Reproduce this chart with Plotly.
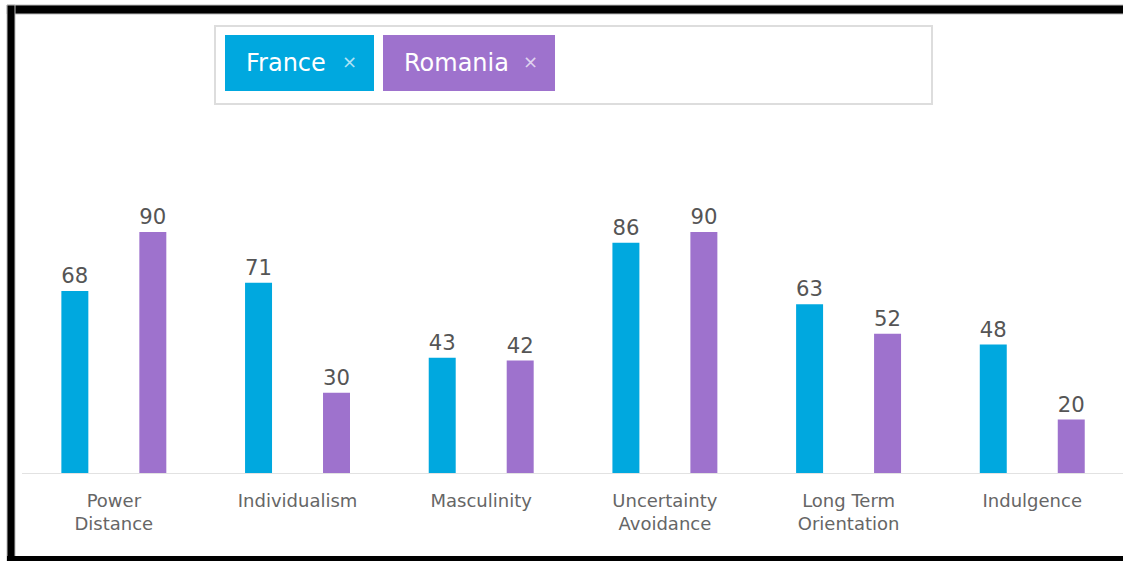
import plotly.graph_objects as go

W, H = 1123, 561

categories = ["Power<br>Distance", "Individualism", "Masculinity",
              "Uncertainty<br>Avoidance", "Long Term<br>Orientation", "Indulgence"]
france = [68, 71, 43, 86, 63, 48]
romania = [90, 30, 42, 90, 52, 20]

FR_COLOR = "#00A8DF"
RO_COLOR = "#9E72CD"
LABEL_FONT = "DejaVu Sans, Verdana, sans-serif"


def px_x(x):
    return x / W


def px_y(y):
    return 1 - y / H


fig = go.Figure()
for name, vals, col in [("France", france, FR_COLOR), ("Romania", romania, RO_COLOR)]:
    fig.add_trace(go.Bar(
        x=categories, y=vals, name=name, marker=dict(color=col, line=dict(width=0)),
        text=[str(v) for v in vals], textposition="outside", cliponaxis=False,
        textfont=dict(family=LABEL_FONT, size=22, color="#555555"),
    ))

shapes = []
# page frame
shapes.append(dict(type="rect", xref="paper", yref="paper",
                   x0=px_x(7), x1=px_x(1130), y0=px_y(5), y1=px_y(14),
                   fillcolor="black", line=dict(width=1, color="#bbbbbb"), layer="above"))
shapes.append(dict(type="rect", xref="paper", yref="paper",
                   x0=px_x(7), x1=px_x(15), y0=px_y(5), y1=px_y(565),
                   fillcolor="black", line=dict(width=1, color="#bbbbbb"), layer="above"))
shapes.append(dict(type="rect", xref="paper", yref="paper",
                   x0=px_x(7), x1=px_x(1130), y0=px_y(556), y1=px_y(565),
                   fillcolor="black", line=dict(width=0), layer="above"))
# selector box
shapes.append(dict(type="rect", xref="paper", yref="paper",
                   x0=px_x(215), x1=px_x(932), y0=px_y(104), y1=px_y(26),
                   fillcolor="white", line=dict(width=2, color="#dddddd"), layer="below"))
# country chips
chips = [("France", FR_COLOR, 225, 374), ("Romania", RO_COLOR, 383, 555)]
annotations = []
for label, col, x0, x1 in chips:
    shapes.append(dict(type="rect", xref="paper", yref="paper",
                       x0=px_x(x0), x1=px_x(x1), y0=px_y(91), y1=px_y(35),
                       fillcolor=col, line=dict(width=0), layer="above"))
    annotations.append(dict(xref="paper", yref="paper", x=px_x(x0 + 19), y=px_y(63),
                            xanchor="left", yanchor="middle", showarrow=False,
                            text=label, font=dict(family=LABEL_FONT, size=24, color="white")))
    annotations.append(dict(xref="paper", yref="paper", x=px_x(x1 - 25), y=px_y(62),
                            xanchor="center", yanchor="middle", showarrow=False,
                            text="×", font=dict(family=LABEL_FONT, size=18,
                                                color="rgba(255,255,255,0.7)")))

fig.update_layout(
    width=W, height=H,
    margin=dict(l=0, r=0, t=0, b=0),
    paper_bgcolor="white", plot_bgcolor="white",
    showlegend=False,
    barmode="group", bargap=0.151, bargroupgap=0.654,
    xaxis=dict(domain=[px_x(22), 1], range=[-0.5, 5.494], showgrid=False,
               showline=True, linecolor="#e2e2e2", linewidth=1,
               ticks="outside", ticklen=11, tickcolor="rgba(0,0,0,0)",
               tickfont=dict(family=LABEL_FONT, size=18, color="#666666"),
               fixedrange=True),
    yaxis=dict(domain=[px_y(473), px_y(205.2)], range=[0, 100], visible=False, fixedrange=True),
    shapes=shapes, annotations=annotations,
)

fig.write_html("out.html")
